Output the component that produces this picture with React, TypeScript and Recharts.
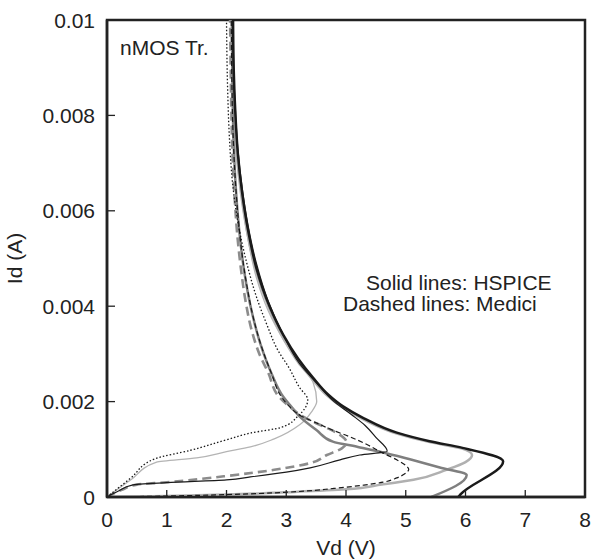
import { LineChart, Line, XAxis, YAxis, ReferenceArea } from "recharts";

// Vd (V), Id (A) pairs, in drawing order along each curve
const hspiceBlackThick: [number, number][] = [
  [5.88, 0], [5.92, 0.00006], [6.63, 0.00075], [5.95, 0.00103], [5.4, 0.00117],
  [4.85, 0.00135], [4.3, 0.00165], [3.95, 0.0019], [3.7, 0.00215], [3.45, 0.0025],
  [3.2, 0.0029], [2.95, 0.0034], [2.72, 0.004], [2.5, 0.0048], [2.36, 0.0056],
  [2.26, 0.0064], [2.19, 0.0072], [2.15, 0.008], [2.12, 0.009], [2.11, 0.01],
];
const hspiceBlackThin: [number, number][] = [
  [0, 0], [0.2, 0.00013], [0.42, 0.00025], [1, 0.0003], [2, 0.00036], [2.4, 0.00042],
  [3, 0.00052], [3.4, 0.00061], [3.9, 0.00078], [4.23, 0.00088], [4.69, 0.00096],
  [4.5, 0.00125], [4.32, 0.0015], [4.1, 0.00172], [3.8, 0.002], [3.5, 0.0024],
  [3.22, 0.0028], [2.95, 0.0034], [2.7, 0.0041], [2.5, 0.0049], [2.36, 0.0057],
  [2.26, 0.0065], [2.19, 0.0073], [2.15, 0.0081], [2.12, 0.009], [2.11, 0.01],
];
const hspiceLightThick: [number, number][] = [
  [0, 0], [1, 0.00002], [2, 0.00005], [3, 0.0001], [4, 0.00016], [4.6, 0.00026],
  [5.13, 0.00036], [5.68, 0.00057], [6.0, 0.00073], [6.11, 0.00088], [5.93, 0.00102],
  [5.4, 0.00115], [4.85, 0.00133], [4.3, 0.00162], [3.95, 0.00187], [3.68, 0.00213],
  [3.42, 0.0025], [3.18, 0.0029], [2.92, 0.0034], [2.7, 0.004], [2.48, 0.0048],
  [2.34, 0.0056], [2.24, 0.0064], [2.17, 0.0072], [2.13, 0.008], [2.11, 0.009], [2.1, 0.01],
];
const hspiceLightThin: [number, number][] = [
  [0, 0], [0.4, 0.00036], [0.83, 0.00073], [1.5, 0.00082], [2.0, 0.00095], [2.4, 0.00105],
  [2.8, 0.00122], [3.23, 0.00152], [3.42, 0.00178], [3.51, 0.002], [3.45, 0.0024],
  [3.2, 0.0028], [2.95, 0.0033], [2.7, 0.0039], [2.5, 0.0046], [2.36, 0.0054],
  [2.25, 0.0063], [2.18, 0.0072], [2.13, 0.0082], [2.11, 0.009], [2.1, 0.01],
];
const hspiceMidThick: [number, number][] = [
  [5.43, 0], [6.02, 0.00046], [5.57, 0.00062], [5.1, 0.00078], [4.57, 0.00095],
  [4.2, 0.00105], [3.78, 0.00116], [3.51, 0.0014], [3.23, 0.00168], [3.08, 0.0019],
  [2.95, 0.0021], [2.75, 0.0026], [2.57, 0.0032], [2.42, 0.0039], [2.3, 0.0047],
  [2.22, 0.0055], [2.16, 0.0064], [2.12, 0.0074], [2.1, 0.0086], [2.09, 0.01],
];
const mediciGrayDash: [number, number][] = [
  [0, 0], [0.25, 0.00015], [0.5, 0.00026], [1, 0.00031], [2, 0.00044], [2.8, 0.00057],
  [3.4, 0.00071], [3.68, 0.00088], [3.93, 0.00102], [4.01, 0.00114], [3.76, 0.0014],
  [3.51, 0.00154], [3.29, 0.00168], [3.05, 0.0019], [2.88, 0.0021], [2.7, 0.0026],
  [2.55, 0.003], [2.42, 0.0035], [2.32, 0.0041], [2.24, 0.0048], [2.18, 0.0055],
  [2.14, 0.0062], [2.1, 0.0072], [2.08, 0.0082], [2.07, 0.009], [2.06, 0.01],
];
const mediciBlackDash: [number, number][] = [
  [0, 0], [1, 0.00002], [2, 0.00005], [3, 0.0001], [3.8, 0.00018], [4.3, 0.00025],
  [4.62, 0.00031], [4.85, 0.0004], [5.0, 0.0005], [5.05, 0.00058], [5.0, 0.00066],
  [4.85, 0.00078], [4.62, 0.00092], [4.35, 0.0011], [4.07, 0.00126], [3.78, 0.0014],
  [3.51, 0.00155], [3.25, 0.0017], [3.05, 0.0019], [2.92, 0.0021], [2.75, 0.0026],
  [2.6, 0.0031], [2.46, 0.0037], [2.36, 0.0043], [2.27, 0.005], [2.2, 0.0058],
  [2.15, 0.0066], [2.11, 0.0076], [2.09, 0.0087], [2.08, 0.01],
];
const mediciBlackDot: [number, number][] = [
  [0, 0], [0.4, 0.0004], [0.8, 0.0008], [1.4, 0.00098], [2.0, 0.0012], [2.4, 0.00134],
  [2.92, 0.00146], [3.2, 0.0017], [3.36, 0.00204], [3.22, 0.0023], [3.05, 0.0027],
  [2.85, 0.0031], [2.68, 0.0036], [2.5, 0.0042], [2.34, 0.0049], [2.2, 0.0057],
  [2.1, 0.0066], [2.05, 0.0075], [2.02, 0.0085], [2.0, 0.01],
];

const xTicks = [0, 1, 2, 3, 4, 5, 6, 7, 8];
const yTicks = [0, 0.002, 0.004, 0.006, 0.008, 0.01];
const yTickLabels = ["0", "0.002", "0.004", "0.006", "0.008", "0.01"];

const INK = "#222";
const FONT = "'Liberation Sans', Arial, Helvetica, sans-serif";

const toRows = (pts: [number, number][]) => pts.map(([x, y]) => ({ x, y }));

const XTick = (props: any) => {
  const { x, y, payload } = props;
  return (
    <g>
      <line x1={x} y1={y} x2={x} y2={y - 7} stroke={INK} strokeWidth={1.3} />
      <text x={x} y={y + 30} textAnchor="middle" fontSize={21} fontFamily={FONT} fill={INK}>
        {payload.value}
      </text>
    </g>
  );
};

const YTick = (props: any) => {
  const { x, y, payload, index } = props;
  return (
    <g>
      <line x1={x} y1={y} x2={x + 8} y2={y} stroke={INK} strokeWidth={1.3} />
      <text x={x - 12} y={y} dy="0.36em" textAnchor="end" fontSize={21} fontFamily={FONT} fill={INK}>
        {yTickLabels[index] ?? payload.value}
      </text>
    </g>
  );
};

// notes and axis titles placed relative to the plot box
const renderNotes = (props: any) => {
  const { x, y, width, height } = props.viewBox;
  return (
    <g fontFamily={FONT} fontSize={21} fill={INK}>
      <text x={x + 13} y={y + 35}>nMOS Tr.</text>
      <text x={x + 259} y={y + 270}>Solid lines: HSPICE</text>
      <text x={x + 236} y={y + 291}>Dashed lines: Medici</text>
      <text x={x + width / 2} y={y + height + 58} textAnchor="middle">Vd (V)</text>
      <text
        x={14}
        y={y + height / 2}
        textAnchor="middle"
        dy="0.36em"
        transform={`rotate(-90, 14, ${y + height / 2})`}
      >
        Id (A)
      </text>
    </g>
  );
};

export default function App() {
  return (
    <div style={{ position: "absolute", left: 0, top: 0, fontFamily: FONT }}>
      <LineChart width={592} height={560} margin={{ top: 20, right: 7, bottom: 0, left: 0 }}>
        <XAxis
          type="number"
          dataKey="x"
          domain={[0, 8]}
          ticks={xTicks}
          tickSize={0}
          tickMargin={0}
          tickLine={false}
          tick={<XTick />}
          height={63}
          axisLine={{ stroke: INK, strokeWidth: 2.5 }}
          allowDuplicatedCategory={false}
        />
        <YAxis
          type="number"
          dataKey="y"
          domain={[0, 0.01]}
          ticks={yTicks}
          tickSize={0}
          tickMargin={0}
          tickLine={false}
          tick={<YTick />}
          width={107}
          axisLine={{ stroke: INK, strokeWidth: 2.5 }}
        />
        <ReferenceArea
          x1={0}
          x2={8}
          y1={0}
          y2={0.01}
          fill="none"
          stroke={INK}
          strokeWidth={2.5}
          label={renderNotes}
        />
        <Line data={toRows(hspiceLightThick)} dataKey="y" type="monotoneY" stroke="#b0b0b0" strokeWidth={2.5} dot={false} activeDot={false} isAnimationActive={false} />
        <Line data={toRows(hspiceLightThin)} dataKey="y" type="monotoneY" stroke="#b4b4b4" strokeWidth={1.3} dot={false} activeDot={false} isAnimationActive={false} />
        <Line data={toRows(hspiceMidThick)} dataKey="y" type="monotoneY" stroke="#7f7f7f" strokeWidth={2.5} dot={false} activeDot={false} isAnimationActive={false} />
        <Line data={toRows(mediciGrayDash)} dataKey="y" type="monotoneY" stroke="#8c8c8c" strokeWidth={2.6} strokeDasharray="9 5" dot={false} activeDot={false} isAnimationActive={false} />
        <Line data={toRows(mediciBlackDash)} dataKey="y" type="monotoneY" stroke="#1a1a1a" strokeWidth={1.2} strokeDasharray="5 3" dot={false} activeDot={false} isAnimationActive={false} />
        <Line data={toRows(mediciBlackDot)} dataKey="y" type="monotoneY" stroke="#1a1a1a" strokeWidth={1.3} strokeDasharray="1.5 2" dot={false} activeDot={false} isAnimationActive={false} />
        <Line data={toRows(hspiceBlackThin)} dataKey="y" type="monotoneY" stroke="#1a1a1a" strokeWidth={1.2} dot={false} activeDot={false} isAnimationActive={false} />
        <Line data={toRows(hspiceBlackThick)} dataKey="y" type="monotoneY" stroke="#1a1a1a" strokeWidth={2.5} dot={false} activeDot={false} isAnimationActive={false} />
      </LineChart>
    </div>
  );
}
